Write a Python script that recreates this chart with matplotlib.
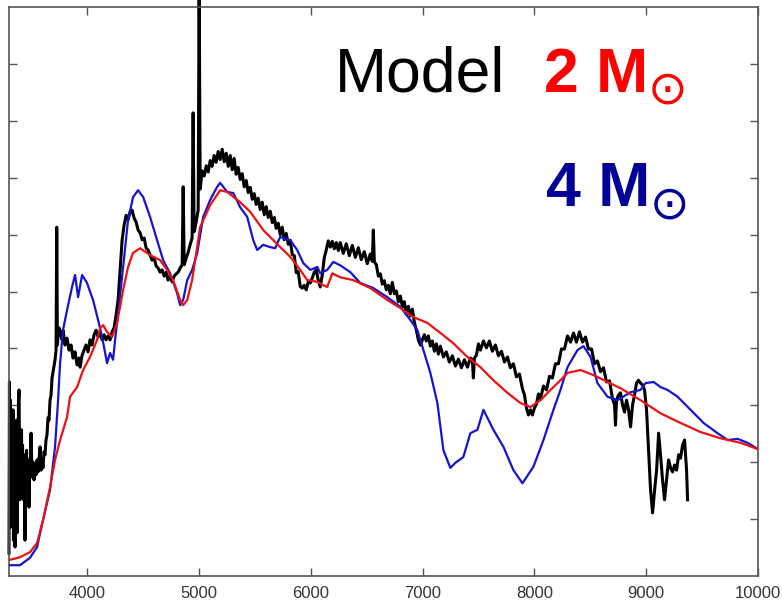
import numpy as np
import matplotlib
matplotlib.use("Agg")
import matplotlib.pyplot as plt

plt.rcParams['font.family'] = ['Liberation Sans', 'DejaVu Sans']

# Model spectrum, 2 solar masses (wavelength in Angstrom, flux in arbitrary units)
wave_2m = [3300, 3398, 3488, 3551, 3604, 3667, 3712, 3757, 3819, 3846, 3909, 3963, 4025,
           4088, 4115, 4142, 4177, 4222, 4267, 4321, 4365, 4410, 4473, 4562, 4652, 4714,
           4768, 4831, 4858, 4894, 4938, 5010, 5100, 5189, 5252, 5368, 5458, 5574, 5726,
           5816, 5905, 5968, 6058, 6111, 6147, 6192, 6263, 6380, 6532, 6684, 6801, 6917,
           7042, 7159, 7275, 7400, 7517, 7633, 7758, 7875, 7964, 8054, 8144, 8233, 8296,
           8412, 8529, 8654, 8770, 8949, 9128, 9307, 9486, 9665, 9845, 10000]
flux_2m = [0.28, 0.33, 0.42, 0.58, 0.98, 1.56, 2.04, 2.39, 2.79, 3.15, 3.32, 3.62, 3.85,
           4.15, 4.36, 4.41, 4.29, 4.20, 4.45, 5.03, 5.43, 5.68, 5.76, 5.64, 5.55, 5.38,
           5.20, 4.85, 4.76, 4.85, 5.20, 6.13, 6.52, 6.78, 6.75, 6.57, 6.40, 6.08, 5.78,
           5.61, 5.38, 5.20, 5.17, 5.11, 5.08, 5.32, 5.25, 5.20, 5.06, 4.85, 4.71, 4.55,
           4.45, 4.27, 4.09, 3.85, 3.67, 3.44, 3.22, 3.04, 2.97, 3.09, 3.27, 3.44, 3.57,
           3.62, 3.53, 3.41, 3.30, 3.09, 2.86, 2.69, 2.53, 2.42, 2.34, 2.23]

# Model spectrum, 4 solar masses
wave_4m = [3300, 3398, 3488, 3551, 3604, 3667, 3712, 3739, 3757, 3783, 3819, 3864, 3891,
           3918, 3954, 3998, 4052, 4097, 4133, 4177, 4204, 4231, 4249, 4276, 4321, 4365,
           4410, 4455, 4500, 4562, 4625, 4679, 4741, 4804, 4831, 4858, 4894, 4938, 4983,
           5037, 5100, 5162, 5189, 5252, 5306, 5368, 5431, 5485, 5520, 5574, 5637, 5681,
           5726, 5816, 5878, 5932, 5995, 6058, 6084, 6147, 6201, 6263, 6353, 6442, 6559,
           6684, 6801, 6890, 6953, 7007, 7069, 7132, 7186, 7248, 7293, 7364, 7427, 7490,
           7544, 7633, 7723, 7812, 7893, 7991, 8081, 8170, 8233, 8296, 8385, 8439, 8502,
           8564, 8654, 8743, 8860, 8949, 8994, 9066, 9128, 9191, 9281, 9397, 9513, 9638,
           9728, 9818, 9907, 10000]
flux_4m = [0.19, 0.19, 0.32, 0.51, 0.98, 1.51, 2.27, 3.09, 3.74, 4.32, 4.67, 5.08, 5.29,
           4.90, 5.29, 5.15, 4.85, 4.50, 4.20, 3.74, 3.92, 3.80, 4.15, 4.62, 5.43, 6.26,
           6.66, 6.78, 6.66, 6.31, 5.90, 5.55, 5.32, 4.97, 4.76, 4.85, 5.20, 5.38, 5.67,
           6.31, 6.61, 6.84, 6.91, 6.75, 6.73, 6.48, 6.31, 5.90, 5.73, 5.82, 5.78, 5.76,
           5.96, 5.90, 5.73, 5.50, 5.38, 5.43, 5.32, 5.38, 5.52, 5.46, 5.34, 5.15, 5.06,
           4.90, 4.73, 4.50, 4.32, 3.97, 3.57, 3.04, 2.21, 1.90, 1.99, 2.09, 2.51, 2.57,
           2.92, 2.57, 2.27, 1.86, 1.63, 1.92, 2.39, 2.92, 3.27, 3.67, 3.97, 4.04, 3.85,
           3.39, 3.15, 3.09, 3.23, 3.27, 3.39, 3.41, 3.32, 3.27, 3.15, 2.92, 2.69, 2.51,
           2.39, 2.41, 2.34, 2.23]

# Observed spectrum
wave_obs = [3300, 3304, 3309, 3313, 3318, 3322, 3327, 3331, 3336, 3340, 3345, 3349, 3354,
            3358, 3363, 3367, 3372, 3376, 3381, 3385, 3390, 3394, 3398, 3403, 3407, 3412,
            3416, 3421, 3425, 3430, 3434, 3439, 3443, 3448, 3452, 3457, 3461, 3466, 3470,
            3475, 3479, 3484, 3488, 3497, 3506, 3515, 3524, 3533, 3542, 3551, 3560, 3569,
            3578, 3587, 3596, 3604, 3613, 3622, 3631, 3640, 3649, 3658, 3667, 3676, 3685,
            3694, 3703, 3712, 3721, 3727, 3733, 3739, 3748,
            3757, 3775, 3783, 3801, 3819, 3837, 3855, 3873, 3891, 3909, 3927, 3936, 3954,
            3971, 3989, 4007, 4025, 4043, 4061, 4079, 4097, 4115, 4133, 4151, 4168, 4186,
            4204, 4222, 4240, 4258, 4276, 4294, 4312, 4330, 4348, 4365, 4383, 4401, 4419,
            4437, 4455, 4473, 4491, 4509, 4527, 4544, 4562, 4580, 4598, 4616, 4634, 4652,
            4670, 4688, 4706, 4723, 4741, 4759, 4777, 4795, 4813, 4831, 4849, 4858, 4867,
            4885, 4903, 4920, 4938, 4947, 4956, 4974, 4992, 5001, 5010, 5028, 5046, 5064,
            5082, 5100, 5117, 5135, 5153, 5171, 5189, 5207, 5225, 5243, 5261, 5279, 5297,
            5314, 5332, 5350, 5368, 5386, 5404, 5422, 5440, 5458, 5476, 5494, 5511, 5529,
            5547, 5565, 5583, 5601, 5619, 5637, 5655, 5673, 5690, 5708, 5726, 5744, 5762,
            5780, 5798, 5816, 5834, 5852, 5870, 5887, 5905, 5923, 5941, 5959, 5977, 5995,
            6013, 6031, 6049, 6066, 6084, 6102, 6120, 6138, 6156, 6174, 6192, 6210, 6228,
            6246, 6263, 6290, 6317, 6344, 6371, 6398, 6425, 6451, 6478, 6505, 6532, 6550,
            6559, 6568, 6586, 6604, 6622, 6639, 6657, 6675, 6693, 6711, 6729, 6747, 6765,
            6783, 6801, 6819, 6836, 6854, 6872, 6890, 6908, 6926, 6944, 6962, 6980, 6998,
            7015, 7033, 7051, 7069, 7087, 7105, 7123, 7141, 7159, 7186, 7212, 7239, 7266,
            7293, 7320, 7347, 7374, 7401, 7427, 7445, 7454, 7463, 7481, 7499, 7517, 7544,
            7571, 7597, 7624, 7651, 7678, 7705, 7732, 7759, 7785, 7812, 7839, 7866, 7893,
            7911, 7929, 7947, 7964, 7982, 8000, 8018, 8036, 8054, 8081, 8108, 8135, 8161,
            8188, 8215, 8242, 8269, 8296, 8323, 8350, 8376, 8403, 8430, 8457, 8484, 8511,
            8538, 8564, 8591, 8618, 8645, 8672, 8699, 8717, 8725, 8734, 8752, 8770, 8788,
            8806, 8824, 8842, 8860, 8878, 8896, 8913, 8931, 8949, 8967, 8985, 9003, 9021,
            9039, 9057, 9075, 9093, 9111, 9128, 9146, 9164, 9182, 9200, 9218, 9236, 9254,
            9272, 9290, 9307, 9325, 9343, 9352, 9361, 9370]
flux_obs = [0.40, 3.41, 0.98, 3.09, 1.86, 0.86, 2.57, 1.25, 2.92, 0.63, 2.30, 1.51, 0.51,
            2.21, 1.69, 2.74, 0.76, 2.39, 1.86, 3.09, 3.27, 2.04, 1.34, 2.39, 1.78, 2.57,
            1.42, 2.30, 1.69, 1.34, 2.13, 1.51, 0.63, 2.04, 1.60, 2.21, 1.78, 1.51, 2.04,
            1.69, 1.21, 1.95, 1.72, 2.51, 1.78, 2.00, 1.69, 1.95, 1.78, 2.04, 1.83, 2.07,
            2.27, 1.86, 2.04, 1.90, 2.18, 2.13, 2.39, 2.48, 2.78, 2.74, 3.09, 3.18, 3.48,
            3.59, 3.71, 3.80, 3.97, 6.13, 4.06, 4.24, 4.36,
            4.27, 4.15, 4.32, 4.06, 4.18, 3.97, 4.06, 3.83, 3.94, 3.71, 3.83, 3.67, 3.88,
            3.97, 4.06, 3.94, 4.15, 4.06, 4.24, 4.32, 4.20, 4.27, 4.15, 4.24, 4.15, 4.22,
            4.15, 4.29, 4.36, 4.59, 4.85, 5.38, 5.91, 6.17, 6.34, 6.26, 6.40, 6.43, 6.29,
            6.22, 6.08, 6.03, 5.91, 5.94, 5.76, 5.73, 5.64, 5.55, 5.59, 5.45, 5.41, 5.34,
            5.38, 5.27, 5.34, 5.20, 5.27, 5.17, 5.27, 5.31, 5.34, 5.41, 5.47, 6.84, 5.47,
            5.59, 5.69, 5.82, 5.94, 8.14, 6.05, 6.22, 6.43, 10.40, 6.80, 7.12, 7.03, 7.21,
            7.10, 7.30, 7.20, 7.39, 7.27, 7.46, 7.32, 7.50, 7.28, 7.43, 7.20, 7.39, 7.14,
            7.34, 7.06, 7.18, 6.97, 7.07, 6.84, 6.95, 6.74, 6.83, 6.62, 6.72, 6.53, 6.64,
            6.44, 6.57, 6.35, 6.49, 6.30, 6.41, 6.21, 6.30, 6.11, 6.20, 6.00, 6.13, 5.91,
            6.02, 5.83, 5.90, 5.65, 5.63, 5.33, 5.35, 5.09, 5.06, 5.11, 5.03, 5.17, 5.15,
            5.24, 5.34, 5.38, 5.20, 5.08, 5.29, 5.59, 5.73, 5.89, 5.78, 5.88, 5.75, 5.86,
            5.72, 5.86, 5.67, 5.84, 5.63, 5.81, 5.60, 5.77, 5.56, 5.70, 5.49, 5.66, 5.53,
            6.08, 5.52, 5.47, 5.27, 5.31, 5.13, 5.19, 5.03, 5.11, 4.96, 5.16, 4.96, 5.01,
            4.82, 4.92, 4.73, 4.82, 4.60, 4.74, 4.57, 4.69, 4.46, 4.32, 4.15, 4.06, 4.15,
            4.24, 4.13, 4.22, 4.04, 4.13, 3.95, 4.08, 3.90, 4.04, 3.85, 3.94, 3.76, 3.87,
            3.69, 3.81, 3.66, 3.80, 3.67, 3.83, 3.80, 3.48, 3.83, 3.88, 4.08, 3.97, 4.13,
            4.01, 4.13, 3.95, 4.06, 3.87, 3.95, 3.76, 3.85, 3.66, 3.73, 3.50, 3.55, 3.29,
            3.18, 2.95, 2.83, 2.92, 2.83, 2.95, 3.02, 3.20, 3.11, 3.34, 3.27, 3.51, 3.48,
            3.73, 3.73, 3.99, 3.99, 4.22, 4.11, 4.27, 4.11, 4.29, 4.11, 4.20, 3.99, 3.99,
            3.73, 3.78, 3.59, 3.66, 3.41, 3.43, 3.11, 3.01, 2.65, 3.09, 3.18, 3.22, 3.01,
            2.88, 3.09, 2.92, 2.62, 3.01, 3.18, 3.39, 3.44, 3.39, 3.36, 3.27, 2.92, 2.21,
            1.51, 1.11, 1.51, 1.86, 2.51, 2.13, 1.69, 1.34, 1.69, 2.04, 1.90, 1.83, 1.95,
            1.86, 2.13, 2.07, 2.30, 2.39, 2.13, 1.86, 1.34]

x_ticks = [4000, 5000, 6000, 7000, 8000, 9000, 10000]
y_ticks = [1, 2, 3, 4, 5, 6, 7, 8, 9]

fig = plt.figure(figsize=(7.82, 6.02), dpi=100)
ax = fig.add_axes([9 / 782, 26 / 602, 749 / 782, 569 / 602])

ax.plot(wave_obs, flux_obs, color='black', lw=2.2, clip_on=False, zorder=2)
ax.plot(wave_4m, flux_4m, color='#1414d2', lw=1.6, zorder=3)
ax.plot(wave_2m, flux_2m, color='#ee1111', lw=1.6, zorder=4)

ax.set_xlim(3300, 10000)
ax.set_ylim(0, 10)
ax.set_xticks(x_ticks)
ax.set_xticklabels([str(t) for t in x_ticks])
ax.set_yticks(y_ticks)
ax.set_yticklabels([])
ax.tick_params(direction='in', length=5.5, width=1.0, color='#555555',
               top=True, right=True, labelsize=12, labelcolor='#333333', pad=7)
for sp in ax.spines.values():
    sp.set_color('#555555')
    sp.set_linewidth(1.2)

fig.text(335 / 782, (602 - 91) / 602, 'Model', fontsize=45, color='black',
         ha='left', va='baseline')
fig.text(544 / 782, (602 - 92) / 602, '2 M', fontsize=45, fontweight='bold',
         color='#ff0000', ha='left', va='baseline')
fig.text(668 / 782, (602 - 91) / 602, '\u2299', fontsize=34, color='#ff0000',
         ha='center', va='center', family='DejaVu Sans')
fig.text(546 / 782, (602 - 206) / 602, '4 M', fontsize=45, fontweight='bold',
         color='#000099', ha='left', va='baseline')
fig.text(670 / 782, (602 - 206) / 602, '\u2299', fontsize=34, color='#000099',
         ha='center', va='center', family='DejaVu Sans')

fig.savefig('out.png', dpi=100)
